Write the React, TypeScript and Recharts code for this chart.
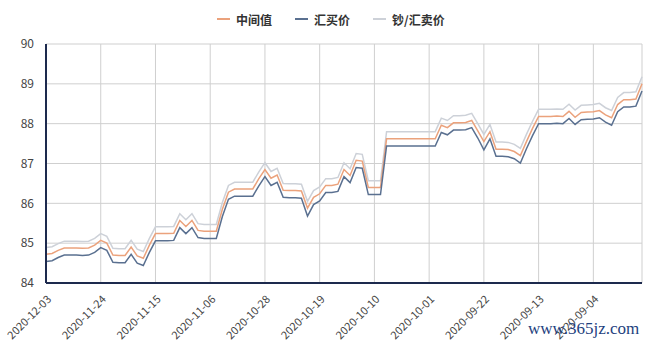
import React from 'react';
import { LineChart, Line, XAxis, YAxis, CartesianGrid } from 'recharts';

const dates = [
  '2020-12-03', '2020-12-02', '2020-12-01',
  '2020-11-30', '2020-11-29', '2020-11-28', '2020-11-27', '2020-11-26', '2020-11-25', '2020-11-24', '2020-11-23', '2020-11-22', '2020-11-21',
  '2020-11-20', '2020-11-19', '2020-11-18', '2020-11-17', '2020-11-16', '2020-11-15', '2020-11-14', '2020-11-13', '2020-11-12', '2020-11-11',
  '2020-11-10', '2020-11-09', '2020-11-08', '2020-11-07', '2020-11-06', '2020-11-05', '2020-11-04', '2020-11-03', '2020-11-02', '2020-11-01',
  '2020-10-31', '2020-10-30', '2020-10-29', '2020-10-28', '2020-10-27', '2020-10-26', '2020-10-25', '2020-10-24', '2020-10-23', '2020-10-22',
  '2020-10-21', '2020-10-20', '2020-10-19', '2020-10-18', '2020-10-17', '2020-10-16', '2020-10-15', '2020-10-14', '2020-10-13', '2020-10-12',
  '2020-10-11', '2020-10-10', '2020-10-09', '2020-10-08', '2020-10-07', '2020-10-06', '2020-10-05', '2020-10-04', '2020-10-03', '2020-10-02',
  '2020-10-01',
  '2020-09-30', '2020-09-29', '2020-09-28', '2020-09-27', '2020-09-26', '2020-09-25', '2020-09-24', '2020-09-23', '2020-09-22', '2020-09-21',
  '2020-09-20', '2020-09-19', '2020-09-18', '2020-09-17', '2020-09-16', '2020-09-15', '2020-09-14', '2020-09-13', '2020-09-12', '2020-09-11',
  '2020-09-10', '2020-09-09', '2020-09-08', '2020-09-07', '2020-09-06', '2020-09-05', '2020-09-04', '2020-09-03', '2020-09-02', '2020-09-01',
  '2020-08-31', '2020-08-30', '2020-08-29', '2020-08-28', '2020-08-27',
];

const midRate = [
  84.72, 84.74, 84.82, 84.88, 84.88, 84.88, 84.87, 84.88, 84.95, 85.07,
  85.0, 84.7, 84.69, 84.69, 84.9, 84.68, 84.62, 84.95, 85.24, 85.24,
  85.24, 85.25, 85.57, 85.42, 85.57, 85.32, 85.3, 85.3, 85.3, 85.85,
  86.28, 86.36, 86.36, 86.36, 86.36, 86.62, 86.85, 86.63, 86.71, 86.33,
  86.32, 86.32, 86.31, 85.88, 86.15, 86.24, 86.45, 86.45, 86.48, 86.85,
  86.7, 87.08, 87.06, 86.4, 86.4, 86.4, 87.62, 87.62, 87.62, 87.62,
  87.62, 87.62, 87.62, 87.62, 87.62, 87.96, 87.9, 88.02, 88.02, 88.03,
  88.08, 87.82, 87.55, 87.8, 87.36, 87.36, 87.35, 87.3, 87.2, 87.55,
  87.88, 88.18, 88.18, 88.18, 88.19, 88.18, 88.31, 88.16, 88.28, 88.29,
  88.3, 88.33, 88.22, 88.15, 88.48, 88.6, 88.6, 88.62, 89.0,
];

const buyRate = [
  84.54, 84.56, 84.64, 84.7, 84.7, 84.7, 84.69, 84.7, 84.77, 84.89,
  84.82, 84.52, 84.51, 84.51, 84.72, 84.5, 84.44, 84.77, 85.06, 85.06,
  85.06, 85.07, 85.39, 85.24, 85.39, 85.14, 85.12, 85.12, 85.12, 85.67,
  86.1, 86.18, 86.18, 86.18, 86.18, 86.44, 86.67, 86.45, 86.53, 86.15,
  86.14, 86.14, 86.13, 85.68, 85.97, 86.06, 86.27, 86.27, 86.3, 86.67,
  86.52, 86.9, 86.88, 86.22, 86.22, 86.22, 87.44, 87.44, 87.44, 87.44,
  87.44, 87.44, 87.44, 87.44, 87.44, 87.78, 87.72, 87.84, 87.84, 87.85,
  87.9, 87.64, 87.34, 87.62, 87.18, 87.18, 87.17, 87.12, 87.01, 87.37,
  87.7, 88.0, 88.0, 88.0, 88.01, 88.0, 88.13, 87.98, 88.1, 88.11,
  88.12, 88.15, 88.04, 87.96, 88.3, 88.42, 88.42, 88.44, 88.82,
];

const sellRate = [
  84.89, 84.91, 84.99, 85.05, 85.05, 85.05, 85.04, 85.05, 85.12, 85.24,
  85.17, 84.87, 84.86, 84.86, 85.07, 84.85, 84.79, 85.12, 85.41, 85.41,
  85.41, 85.42, 85.74, 85.59, 85.74, 85.49, 85.47, 85.47, 85.47, 86.02,
  86.45, 86.53, 86.53, 86.53, 86.53, 86.79, 87.02, 86.8, 86.88, 86.5,
  86.49, 86.49, 86.48, 86.05, 86.32, 86.41, 86.62, 86.62, 86.65, 87.02,
  86.87, 87.25, 87.23, 86.57, 86.57, 86.57, 87.8, 87.8, 87.8, 87.8,
  87.8, 87.8, 87.8, 87.8, 87.8, 88.14, 88.08, 88.2, 88.2, 88.21,
  88.26, 88.0, 87.73, 87.98, 87.54, 87.54, 87.53, 87.48, 87.38, 87.73,
  88.06, 88.36, 88.36, 88.36, 88.37, 88.36, 88.49, 88.34, 88.46, 88.47,
  88.48, 88.51, 88.4, 88.33, 88.66, 88.78, 88.78, 88.8, 89.18,
];

const tickDates = [
  '2020-12-03', '2020-11-24', '2020-11-15', '2020-11-06', '2020-10-28', '2020-10-19',
  '2020-10-10', '2020-10-01', '2020-09-22', '2020-09-13', '2020-09-04',
];

const yTicks = [84, 85, 86, 87, 88, 89, 90];

const seriesNames = ['中间值', '汇买价', '钞/汇卖价'];

const MID_COLOR = '#eba27c';
const BUY_COLOR = '#5a7090';
const SELL_COLOR = '#cdd1d8';
const AXIS_COLOR = '#1d2a4e';
const FONT = '"Noto Sans CJK SC", "Noto Sans", sans-serif';

const data = dates.map((d, i) => ({ date: d, mid: midRate[i], buy: buyRate[i], sell: sellRate[i] }));

const XTick = (props: any) => {
  const { x, y, payload } = props;
  return (
    <g transform={`translate(${x + 6},${y + 17})`}>
      <text x={0} y={0} textAnchor="end" transform="rotate(-45)" fontSize={11} fill="#444" fontFamily={FONT}>
        {payload.value}
      </text>
    </g>
  );
};

const legendColors = [MID_COLOR, BUY_COLOR, SELL_COLOR];

export default function App() {
  return (
    <div style={{ position: 'absolute', left: 0, top: 0, width: 651, height: 346, background: '#fff' }}>
      <div
        style={{
          position: 'absolute',
          left: 217,
          top: 10,
          display: 'flex',
          alignItems: 'center',
          fontFamily: FONT,
          fontSize: 12,
          fontWeight: 'bold',
          color: '#333',
          height: 18,
        }}
      >
        {seriesNames.map((n, i) => (
          <div key={n} style={{ display: 'flex', alignItems: 'center', marginRight: 23 }}>
            <div style={{ width: 13, height: 2, background: legendColors[i], marginRight: 6 }} />
            <span>{n}</span>
          </div>
        ))}
      </div>
      <LineChart width={651} height={346} data={data} margin={{ top: 44, right: 9, left: 0, bottom: 0 }}>
        <CartesianGrid stroke="#cfcfcf" strokeWidth={1} />
        <XAxis
          dataKey="date"
          ticks={tickDates}
          interval={0}
          height={63}
          tickLine={false}
          tickSize={0}
          tickMargin={0}
          axisLine={{ stroke: AXIS_COLOR, strokeWidth: 2 }}
          tick={<XTick />}
        />
        <YAxis
          domain={[84, 90]}
          ticks={yTicks}
          width={46}
          tickLine={false}
          tickSize={0}
          tickMargin={12}
          axisLine={{ stroke: AXIS_COLOR, strokeWidth: 2 }}
          tick={{ fontSize: 12, fill: '#444', fontFamily: FONT }}
        />
        <YAxis
          yAxisId="right"
          orientation="right"
          domain={[84, 90]}
          width={0}
          tick={false}
          tickLine={false}
          axisLine={{ stroke: '#cfcfcf', strokeWidth: 1 }}
        />
        <Line dataKey="sell" name={seriesNames[2]} stroke={SELL_COLOR} strokeWidth={1.5} dot={false} isAnimationActive={false} />
        <Line dataKey="mid" name={seriesNames[0]} stroke={MID_COLOR} strokeWidth={1.5} dot={false} isAnimationActive={false} />
        <Line dataKey="buy" name={seriesNames[1]} stroke={BUY_COLOR} strokeWidth={1.5} dot={false} isAnimationActive={false} />
      </LineChart>
      <div
        style={{
          position: 'absolute',
          left: 528,
          top: 319,
          fontFamily: '"Liberation Serif", serif',
          fontSize: 17,
          color: '#1e3f7e',
          lineHeight: '20px',
          whiteSpace: 'nowrap',
        }}
      >
        www.365jz.com
      </div>
    </div>
  );
}
